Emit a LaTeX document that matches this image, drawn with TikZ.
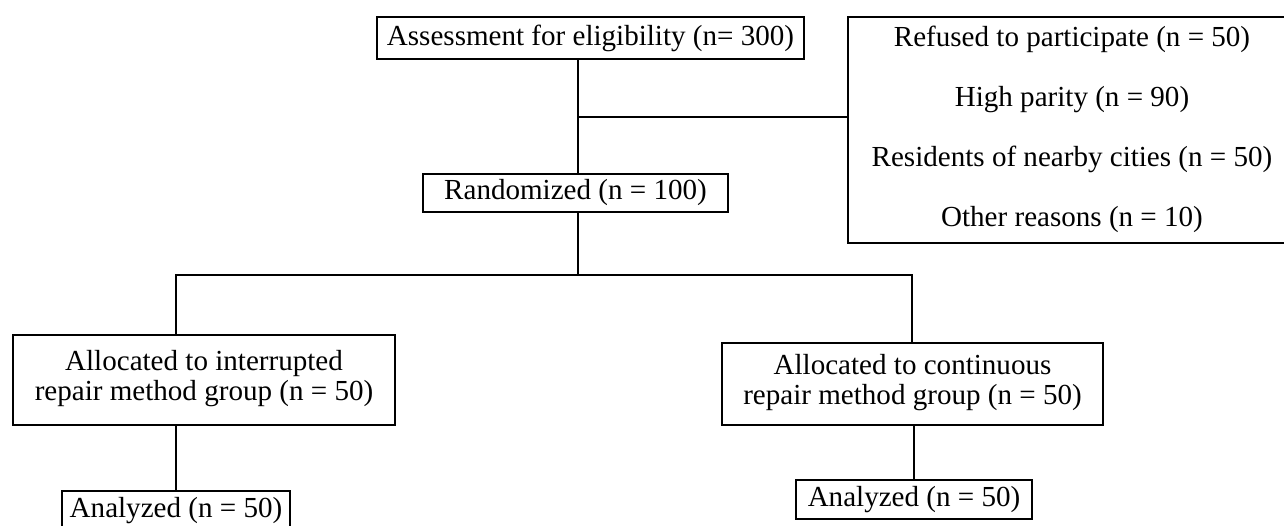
\documentclass[tikz,border=0pt]{standalone}
\usepackage{fontspec}
\setmainfont{Liberation Serif}
% extra depth under the last line of a multi-line box
\newcommand{\lowpad}[1]{\rule[-#1]{0pt}{0pt}}
\begin{document}
\begin{tikzpicture}[x=0.75pt,y=-0.75pt,
  box/.style={draw=black,line width=1.3pt,inner sep=0pt,align=center,
    font=\fontsize{21.8}{22.5}\selectfont},
  link/.style={draw=black,line width=1.3pt}]
\useasboundingbox (0,0) rectangle (1284,525);
\clip (0,0) rectangle (1284,525);

% boxes
\node[box,minimum width=320.25pt,minimum height=31.5pt] (assess) at (590.5,38)
  {Assessment for eligibility (n= 300)};
\node[box,minimum width=228.75pt,minimum height=28.5pt] (rand) at (575.5,193)
  {Randomized (n = 100)};
\node[box,minimum width=336pt,minimum height=169.5pt,
  font=\fontsize{21.8}{45}\selectfont] (excl) at (1072,130)
  {Refused to participate (n = 50)\\High parity (n = 90)\\
   Residents of nearby cities (n = 50)\\Other reasons (n = 10)\lowpad{6pt}};
\node[box,minimum width=286.5pt,minimum height=67.5pt] (allocL) at (204,380)
  {Allocated to interrupted\\repair method group (n = 50)\lowpad{7.5pt}};
\node[box,minimum width=285.75pt,minimum height=61.5pt] (allocR) at (912.5,384)
  {Allocated to continuous\\repair method group (n = 50)\lowpad{7.5pt}};
\node[box,minimum width=171pt,minimum height=29.25pt] (anaL) at (176,510.5)
  {Analyzed (n = 50)};
\node[box,minimum width=177pt,minimum height=29.25pt] (anaR) at (914,499.5)
  {Analyzed (n = 50)};

% connector junctions
\coordinate (exj) at (578,117);
\coordinate (split) at (578,275);
\coordinate (lx) at (176,275);
\coordinate (rx) at (912,275);

% connectors
\draw[link] (assess.south -| exj) -- (rand.north -| exj);
\draw[link] (exj) -- (exj -| excl.west);
\draw[link] (rand.south -| split) -- (split);
\draw[link] (allocL.north -| lx) -- (lx) -- (rx) -- (allocR.north -| rx);
\draw[link] (allocL.south -| anaL.north) -- (anaL.north);
\draw[link] (allocR.south -| anaR.north) -- (anaR.north);
\end{tikzpicture}
\end{document}
